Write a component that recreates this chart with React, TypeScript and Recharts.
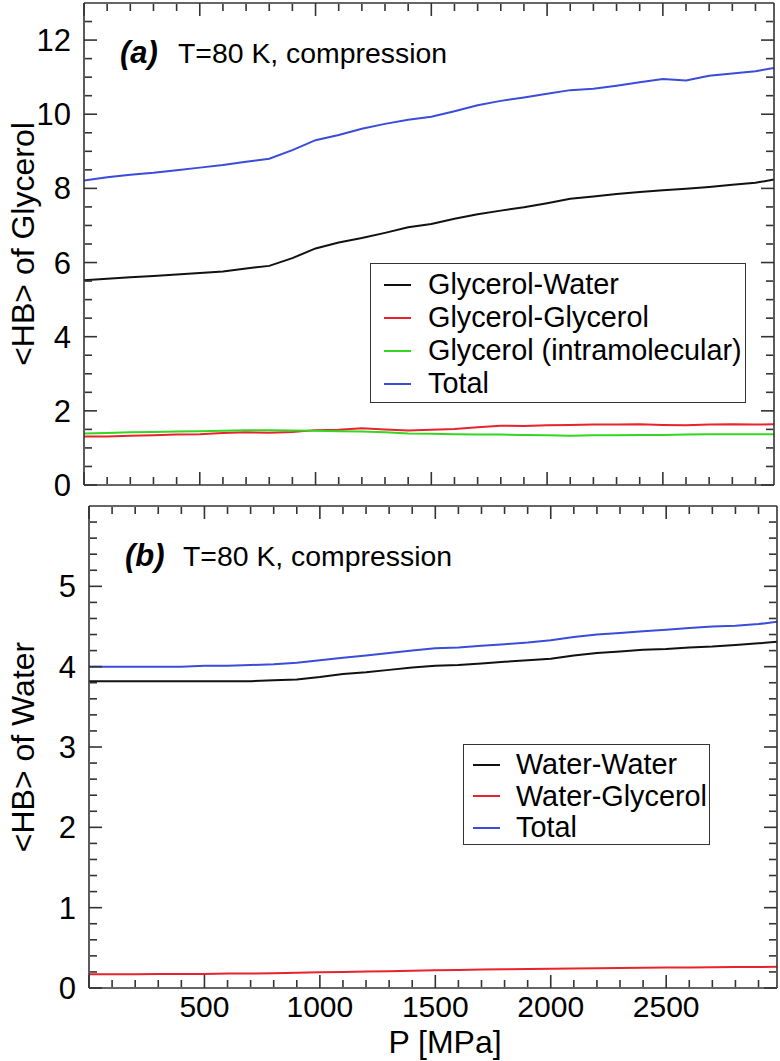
import React from 'react';
import { LineChart, Line, XAxis, YAxis, Legend, Customized } from 'recharts';

const FONT = '"Liberation Sans", Arial, Helvetica, sans-serif';
const AXIS = '#333';
const X_DOMAIN: [number, number] = [0, 2980];

// pressure grid (MPa)
const pressure = [0, 100, 200, 300, 400, 500, 600, 700, 800, 900, 1000, 1100, 1200, 1300, 1400, 1500,
  1600, 1700, 1800, 1900, 2000, 2100, 2200, 2300, 2400, 2500, 2600, 2700, 2800, 2900, 2980];

// panel (a): <HB> of glycerol
const glyWater = [5.52, 5.56, 5.60, 5.64, 5.68, 5.72, 5.76, 5.84, 5.91, 6.12, 6.38, 6.54, 6.66, 6.80, 6.95, 7.04,
  7.18, 7.30, 7.40, 7.49, 7.60, 7.72, 7.78, 7.85, 7.90, 7.95, 7.99, 8.04, 8.10, 8.15, 8.24];
const glyGly = [1.31, 1.31, 1.33, 1.34, 1.36, 1.37, 1.40, 1.42, 1.41, 1.43, 1.48, 1.49, 1.53, 1.50, 1.47, 1.49,
  1.51, 1.56, 1.60, 1.59, 1.61, 1.62, 1.63, 1.63, 1.64, 1.62, 1.61, 1.63, 1.64, 1.63, 1.64];
const glyIntra = [1.39, 1.40, 1.42, 1.43, 1.44, 1.45, 1.46, 1.48, 1.48, 1.47, 1.46, 1.45, 1.44, 1.42, 1.39, 1.38,
  1.37, 1.36, 1.36, 1.35, 1.34, 1.33, 1.34, 1.34, 1.35, 1.35, 1.36, 1.37, 1.37, 1.37, 1.37];
const glyTotal = [8.21, 8.30, 8.37, 8.42, 8.49, 8.56, 8.63, 8.72, 8.80, 9.03, 9.30, 9.44, 9.61, 9.74, 9.85, 9.93,
  10.08, 10.24, 10.36, 10.45, 10.55, 10.65, 10.69, 10.77, 10.86, 10.95, 10.91, 11.04, 11.10, 11.16, 11.25];

// panel (b): <HB> of water
const watWater = [3.82, 3.82, 3.82, 3.82, 3.82, 3.82, 3.82, 3.82, 3.83, 3.84, 3.87, 3.91, 3.93, 3.96, 3.99, 4.01,
  4.02, 4.04, 4.06, 4.08, 4.10, 4.14, 4.17, 4.19, 4.21, 4.22, 4.24, 4.25, 4.27, 4.29, 4.31];
const watGly = [0.17, 0.17, 0.17, 0.175, 0.175, 0.175, 0.18, 0.18, 0.185, 0.19, 0.195, 0.20, 0.205, 0.21, 0.215, 0.22,
  0.225, 0.23, 0.233, 0.236, 0.24, 0.243, 0.246, 0.25, 0.252, 0.254, 0.256, 0.258, 0.26, 0.262, 0.265];
const watTotal = [4.00, 4.00, 4.00, 4.00, 4.00, 4.01, 4.01, 4.02, 4.03, 4.05, 4.08, 4.11, 4.14, 4.17, 4.20, 4.23,
  4.24, 4.26, 4.28, 4.30, 4.33, 4.37, 4.40, 4.42, 4.44, 4.46, 4.48, 4.50, 4.51, 4.53, 4.56];

const topNames = ['Glycerol-Water', 'Glycerol-Glycerol', 'Glycerol (intramolecular)', 'Total'];
const botNames = ['Water-Water', 'Water-Glycerol', 'Total'];

// ticks
const xMajor = [0, 500, 1000, 1500, 2000, 2500];
const xMinor = [100, 200, 300, 400, 600, 700, 800, 900, 1100, 1200, 1300, 1400, 1600, 1700, 1800, 1900,
  2100, 2200, 2300, 2400, 2600, 2700, 2800, 2900];
const xLabels = [500, 1000, 1500, 2000, 2500];
const topYMajor = [0, 2, 4, 6, 8, 10, 12];
const topYMinor = [0.5, 1, 1.5, 2.5, 3, 3.5, 4.5, 5, 5.5, 6.5, 7, 7.5, 8.5, 9, 9.5, 10.5, 11, 11.5, 12.5];
const botYMajor = [0, 1, 2, 3, 4, 5];
const botYMinor = [0.2, 0.4, 0.6, 0.8, 1.2, 1.4, 1.6, 1.8, 2.2, 2.4, 2.6, 2.8, 3.2, 3.4, 3.6, 3.8,
  4.2, 4.4, 4.6, 4.8, 5.2, 5.4, 5.6, 5.8];

const topData = pressure.map((p, i) => ({ p, gw: glyWater[i], gg: glyGly[i], gi: glyIntra[i], gt: glyTotal[i] }));
const botData = pressure.map((p, i) => ({ p, ww: watWater[i], wg: watGly[i], wt: watTotal[i] }));

const noTick = () => <g />;

// inward ticks on all four sides + the frame
function frameAxes(yDomain: [number, number], yMajor: number[], yMinor: number[]) {
  const line = { stroke: AXIS, strokeWidth: 1.6 };
  const shared = { type: 'number' as const, allowDataOverflow: true, interval: 0 as const, tick: noTick, mirror: true, tickLine: line };
  return [
    <XAxis key="xb" xAxisId="xb" dataKey="p" domain={X_DOMAIN} ticks={xMajor} orientation="bottom" height={1} tickSize={13} axisLine={line} {...shared} />,
    <XAxis key="xbm" xAxisId="xbm" dataKey="p" domain={X_DOMAIN} ticks={xMinor} orientation="bottom" height={1} tickSize={7} axisLine={false} {...shared} />,
    <XAxis key="xt" xAxisId="xt" dataKey="p" domain={X_DOMAIN} ticks={xMajor} orientation="top" height={1} tickSize={13} axisLine={line} {...shared} />,
    <XAxis key="xtm" xAxisId="xtm" dataKey="p" domain={X_DOMAIN} ticks={xMinor} orientation="top" height={1} tickSize={7} axisLine={false} {...shared} />,
    <YAxis key="ylM" yAxisId="ylM" domain={yDomain} ticks={yMajor} orientation="left" width={1} tickSize={13} axisLine={line} {...shared} />,
    <YAxis key="ylm" yAxisId="ylm" domain={yDomain} ticks={yMinor} orientation="left" width={1} tickSize={7} axisLine={false} {...shared} />,
    <YAxis key="yrM" yAxisId="yrM" domain={yDomain} ticks={yMajor} orientation="right" width={1} tickSize={13} axisLine={line} {...shared} />,
    <YAxis key="yrm" yAxisId="yrm" domain={yDomain} ticks={yMinor} orientation="right" width={1} tickSize={7} axisLine={false} {...shared} />,
  ];
}

function legendBox(order: string[], width: number, height: number, rowH: number, padTop: number, segLeft: number, textLeft: number) {
  return (props: any) => {
    const items = [...(props.payload || [])].sort((a: any, b: any) => order.indexOf(a.value) - order.indexOf(b.value));
    return (
      <div style={{ width, height, boxSizing: 'border-box', border: `1.5px solid ${AXIS}`, background: '#fff', paddingTop: padTop }}>
        {items.map((e: any) => (
          <div key={e.value} style={{ position: 'relative', height: rowH, fontFamily: FONT, fontSize: 28.8, lineHeight: `${rowH}px`, color: '#000' }}>
            <span style={{ position: 'absolute', left: segLeft, top: rowH / 2 - 1, width: 27, height: 2, background: e.color }} />
            <span style={{ position: 'absolute', left: textLeft, top: 0, whiteSpace: 'nowrap' }}>{e.value}</span>
          </div>
        ))}
      </div>
    );
  };
}

const yTickStyle = { fontSize: 31, fill: '#000', fontFamily: FONT };
const xTickStyle = { fontSize: 30, fill: '#000', fontFamily: FONT };

function Note({ x, y, tag, textX }: { x: number; y: number; tag: string; textX: number }) {
  return (
    <text x={x} y={y} fontFamily={FONT} fontSize={28.4} fill="#000">
      <tspan fontWeight="bold" fontStyle="italic" fontSize={31}>{tag}</tspan>
      <tspan x={textX}>T=80 K, compression</tspan>
    </text>
  );
}

export default function App() {
  return (
    <div style={{ position: 'absolute', left: 0, top: 0, width: 780, height: 1061, background: '#fff' }}>
      <div style={{ position: 'absolute', left: 0, top: 0 }}>
        <LineChart width={780} height={510} data={topData} margin={{ top: 3, right: 6, bottom: 25, left: 0 }}>
          {frameAxes([0, 13], topYMajor, topYMinor)}
          <YAxis yAxisId="yl" type="number" domain={[0, 13]} ticks={topYMajor} interval={0} width={84} allowDataOverflow
            tickLine={false} axisLine={false} tickSize={0} tickMargin={13} tick={yTickStyle}
            label={{ value: '<HB> of Glycerol', angle: -90, position: 'insideLeft', offset: 23, fontSize: 32, fill: '#000', fontFamily: FONT, style: { textAnchor: 'middle' } }} />
          <Line xAxisId="xb" yAxisId="yl" dataKey="gw" name="Glycerol-Water" stroke="#111" strokeWidth={2} dot={false} isAnimationActive={false} />
          <Line xAxisId="xb" yAxisId="yl" dataKey="gg" name="Glycerol-Glycerol" stroke="#e8232b" strokeWidth={2} dot={false} isAnimationActive={false} />
          <Line xAxisId="xb" yAxisId="yl" dataKey="gi" name="Glycerol (intramolecular)" stroke="#33d622" strokeWidth={2} dot={false} isAnimationActive={false} />
          <Line xAxisId="xb" yAxisId="yl" dataKey="gt" name="Total" stroke="#3a4cd9" strokeWidth={2} dot={false} isAnimationActive={false} />
          <Legend layout="vertical" align="center" verticalAlign="middle" wrapperStyle={{ left: 370, top: 263 }}
            content={legendBox(topNames, 376, 140, 33, 4, 13, 57)} />
          <Customized component={() => <Note x={120} y={63} tag="(a)" textX={178} />} />
        </LineChart>
      </div>
      <div style={{ position: 'absolute', left: 0, top: 490 }}>
        <LineChart width={780} height={571} data={botData} margin={{ top: 16, right: 3, bottom: 0, left: 0 }}>
          {frameAxes([0, 6], botYMajor, botYMinor)}
          <YAxis yAxisId="yl" type="number" domain={[0, 6]} ticks={botYMajor} interval={0} width={89} allowDataOverflow
            tickLine={false} axisLine={false} tickSize={0} tickMargin={13} tick={yTickStyle}
            label={{ value: '<HB> of Water', angle: -90, position: 'insideLeft', offset: 23, fontSize: 32, fill: '#000', fontFamily: FONT, style: { textAnchor: 'middle' } }} />
          <XAxis xAxisId="xl" dataKey="p" type="number" domain={X_DOMAIN} ticks={xLabels} interval={0} height={73} allowDataOverflow
            tickLine={false} axisLine={false} tickSize={0} tickMargin={8} tick={xTickStyle}
            label={{ value: 'P [MPa]', position: 'insideBottom', offset: 8, dx: 12, fontSize: 32, fill: '#000', fontFamily: FONT }} />
          <Line xAxisId="xb" yAxisId="yl" dataKey="ww" name="Water-Water" stroke="#111" strokeWidth={2} dot={false} isAnimationActive={false} />
          <Line xAxisId="xb" yAxisId="yl" dataKey="wg" name="Water-Glycerol" stroke="#e8232b" strokeWidth={2} dot={false} isAnimationActive={false} />
          <Line xAxisId="xb" yAxisId="yl" dataKey="wt" name="Total" stroke="#3a4cd9" strokeWidth={2} dot={false} isAnimationActive={false} />
          <Legend layout="vertical" align="center" verticalAlign="middle" wrapperStyle={{ left: 463, top: 254 }}
            content={legendBox(botNames, 247, 101, 31.5, 4, 9, 52)} />
          <Customized component={() => <Note x={125} y={76} tag="(b)" textX={183} />} />
        </LineChart>
      </div>
    </div>
  );
}
